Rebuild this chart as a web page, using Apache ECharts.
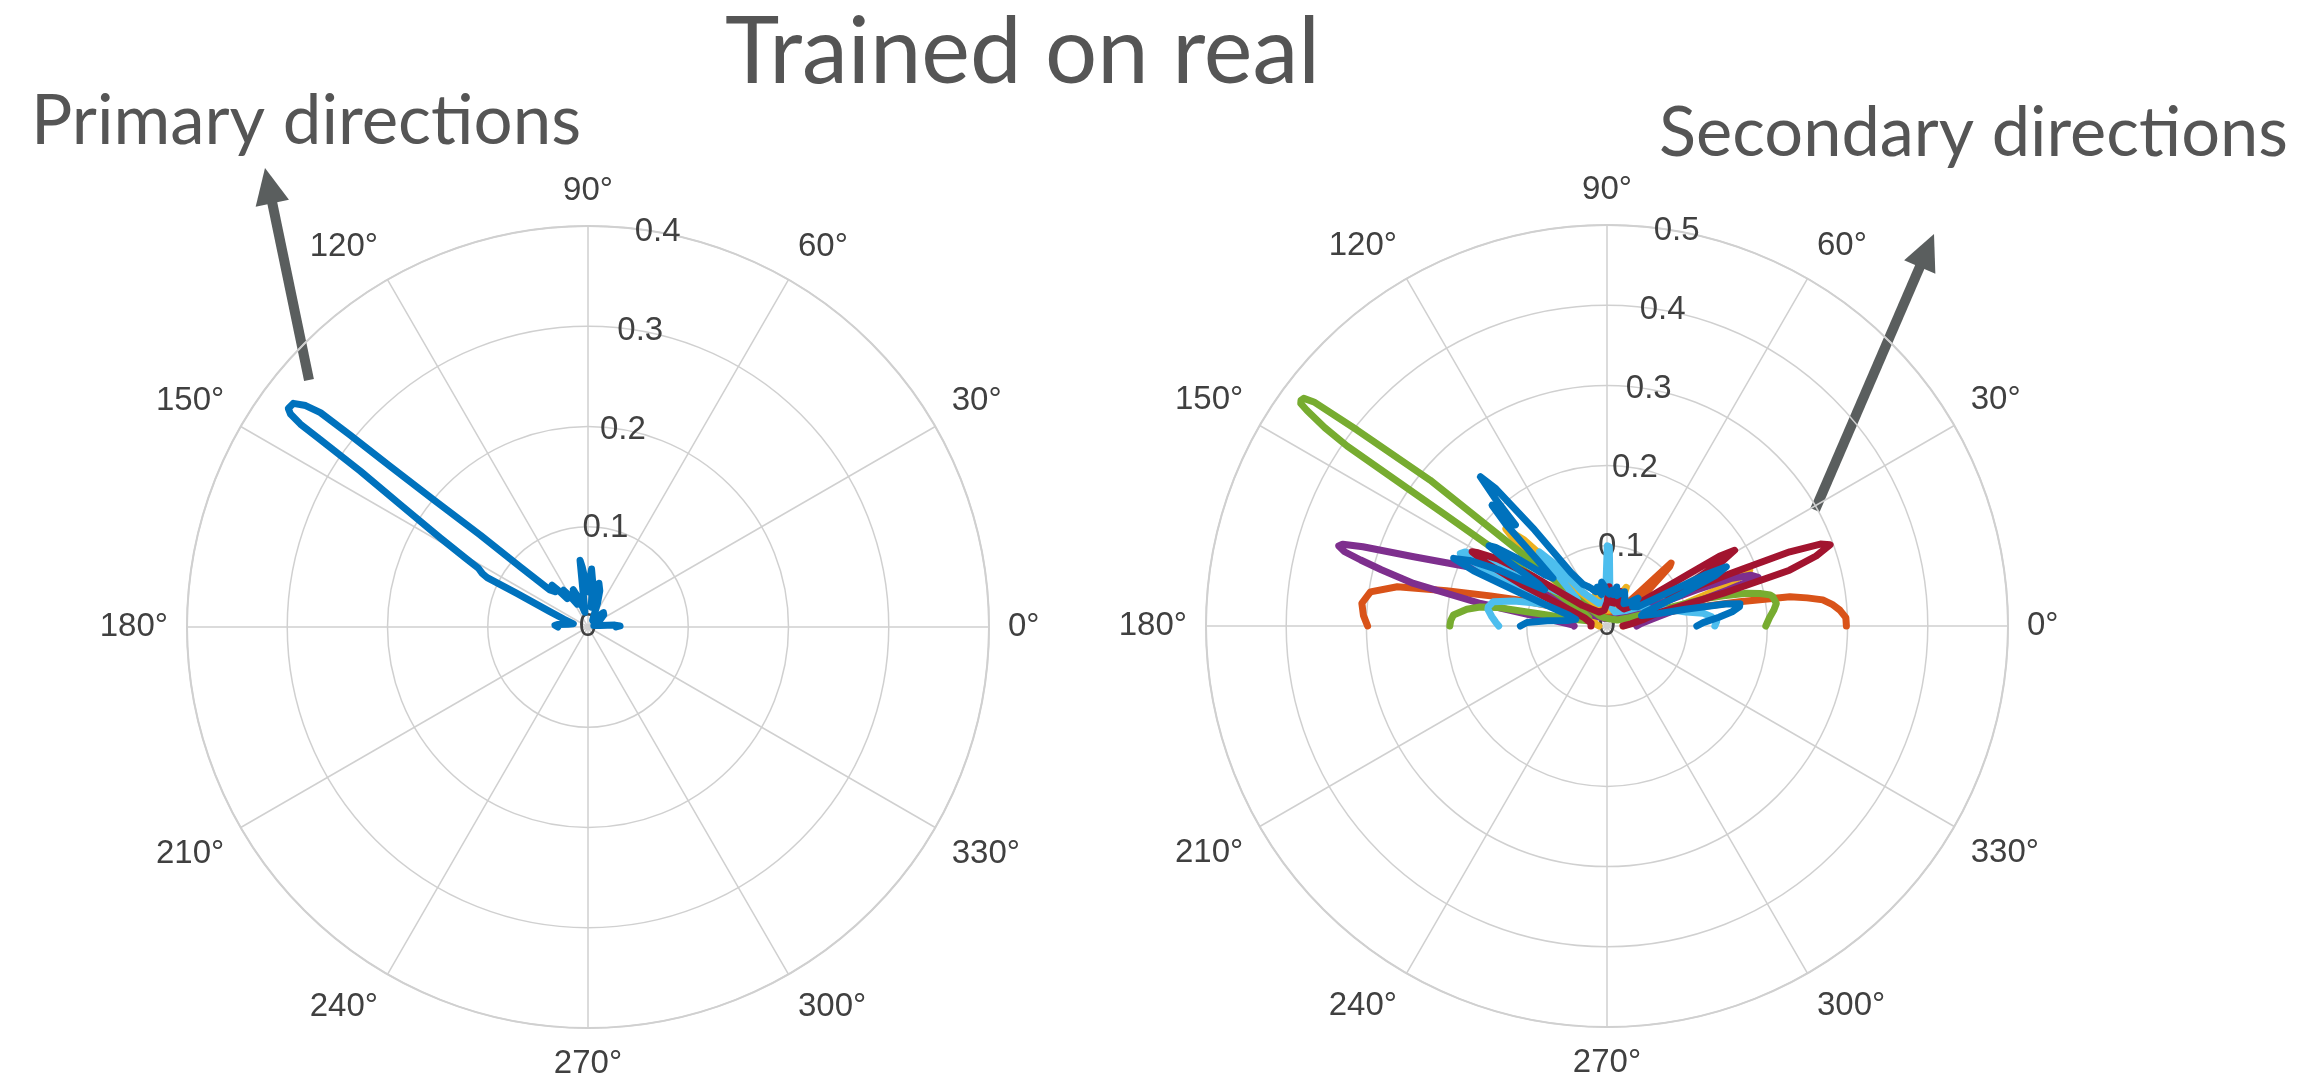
<!DOCTYPE html>
<html><head><meta charset="utf-8">
<script src="https://cdn.jsdelivr.net/npm/echarts@6/dist/echarts.min.js"></script>
<style>html,body{margin:0;padding:0;background:#fff}#c{width:2304px;height:1088px}</style>
</head><body><div id="c"></div>
<script>
// ---------- tick labels ----------
const angleTicks = [0, 30, 60, 90, 120, 150, 180, 210, 240, 270, 300, 330, 360];
const leftRadiusTicks = [0, 0.1, 0.2, 0.3, 0.4];
const rightRadiusTicks = [0, 0.1, 0.2, 0.3, 0.4, 0.5];

// ---------- data: [angle in degrees, radius] ----------
const leftBlue = [[0,0.028],[2,0.032],[4,0.027],[7,0.012],[15,0.006],[25,0.008],[32,0.015],[38,0.02],[43,0.021],[48,0.012],[55,0.008],[62,0.012],[68,0.025],[72,0.038],[76,0.045],[78.5,0.03],[81,0.02],[84,0.045],[86.5,0.058],[88,0.059],[90,0.035],[93,0.045],[95.5,0.06],[96.8,0.067],[98.5,0.03],[102,0.015],[108,0.03],[111.7,0.04],[115,0.025],[120,0.035],[123.7,0.044],[126,0.035],[128.5,0.045],[130.8,0.055],[133,0.048],[135.8,0.053],[138.45,0.0905],[139.5,0.141],[140.5,0.2],[140.9,0.254],[141.1,0.3046],[141.3,0.342],[141.9,0.358],[142.8,0.369],[143.9,0.37],[144.4,0.365],[144.8,0.351],[145.0,0.327],[145.6,0.275],[146.9,0.2235],[148.9,0.172],[150.8,0.138],[151.8,0.124],[153.2,0.118],[153.9,0.112],[154.7,0.079],[158,0.041],[162,0.025],[168,0.015],[172,0.02],[175,0.03],[177,0.033],[180,0.03]];

const rightOrange = [[0,0.2985],[2,0.298],[3.9,0.291],[5.5,0.282],[6.9,0.271],[8,0.252],[9.1,0.231],[10.4,0.168],[12,0.106],[14,0.06],[20,0.03],[30,0.02],[38,0.03],[41,0.07],[43.5,0.108],[44.5,0.112],[46,0.06],[50,0.03],[60,0.02],[80,0.015],[100,0.02],[105,0.04],[108,0.046],[111,0.03],[120,0.015],[140,0.02],[155,0.04],[160,0.07],[163.4,0.113],[165.5,0.15],[167.6,0.205],[169.4,0.266],[171.8,0.298],[174.7,0.307],[177.5,0.304],[180,0.2985]];

const rightYellow = [[0,0.02],[10,0.04],[15,0.09],[18,0.14],[20,0.175],[21.4,0.191],[22.5,0.17],[24,0.1],[26,0.05],[30,0.03],[45,0.02],[55,0.02],[60,0.04],[63.5,0.054],[66,0.045],[70,0.025],[80,0.02],[100,0.02],[108,0.03],[112,0.04],[114,0.042],[117,0.025],[125,0.03],[131,0.09],[134,0.15],[136.2,0.175],[137.5,0.15],[139,0.09],[142,0.04],[150,0.02],[170,0.015],[180,0.01]];

const rightPurple = [[0,0.037],[4,0.042],[7.7,0.053],[11.9,0.0765],[15.1,0.117],[16.6,0.157],[17.8,0.198],[19.5,0.19],[21,0.165],[22,0.12],[23.5,0.06],[26,0.03],[40,0.015],[70,0.01],[110,0.01],[140,0.02],[150,0.05],[154,0.12],[157,0.19],[160.3,0.256],[162,0.32],[162.8,0.345],[163.4,0.349],[164.2,0.34],[165,0.318],[166,0.29],[167.6,0.247],[169.9,0.16],[171.6,0.1],[173.7,0.07],[178.3,0.042],[180,0.041]];

const rightGreen = [[0,0.198],[3,0.203],[5.5,0.209],[7.6,0.213],[10,0.21],[10.8,0.207],[12,0.195],[13.2,0.179],[14.5,0.15],[15.5,0.129],[16.2,0.086],[17.5,0.05],[20,0.03],[30,0.015],[60,0.01],[100,0.01],[125,0.015],[134,0.03],[137.5,0.05],[138.8,0.1],[140.5,0.286],[141.9,0.396],[142.6,0.46],[143.1,0.4727],[143.6,0.474],[144.0,0.472],[144.3,0.461],[144.9,0.43],[145.3,0.394],[145.5,0.244],[146,0.15],[146.8,0.08],[148,0.04],[155,0.025],[165,0.025],[168.5,0.04],[169.5,0.076],[170.4,0.139],[171.5,0.16],[173.2,0.176],[175.9,0.192],[178,0.195],[180,0.196]];

const rightLightBlue = [[0,0.1345],[2.5,0.137],[5,0.131],[7.5,0.121],[10,0.1],[13.6,0.085],[20,0.06],[30,0.048],[40,0.03],[60,0.02],[80,0.025],[86,0.05],[88.3,0.099],[89.8,0.1],[91.5,0.05],[95,0.03],[110,0.03],[125,0.05],[130,0.1],[132.4,0.125],[134,0.09],[138,0.05],[146,0.08],[150,0.16],[152.5,0.2],[153.7,0.204],[155,0.17],[156.5,0.1],[158,0.07],[160.8,0.08],[163,0.1],[165,0.12],[168,0.145],[170.8,0.15],[172,0.15],[175.4,0.144],[178,0.139],[180,0.135]];

const rightRed = [[0,0.02],[5,0.03],[10,0.045],[14.3,0.064],[15.7,0.15],[17,0.238],[18.5,0.275],[20,0.296],[21,0.285],[22.1,0.246],[23,0.17],[24,0.11],[25.5,0.085],[27.2,0.116],[29.3,0.165],[30.7,0.185],[31.8,0.165],[32.4,0.122],[33.5,0.08],[36,0.045],[45,0.03],[60,0.03],[66,0.04],[69,0.046],[72,0.03],[84,0.03],[87,0.049],[89.5,0.03],[100,0.02],[120,0.02],[140,0.04],[146,0.11],[148.5,0.16],[150.4,0.185],[151.2,0.192],[152.5,0.17],[154,0.12],[156,0.06],[160,0.03],[170,0.02],[180,0.02]];

const rightBlue = [[0,0.112],[2,0.12],[4.5,0.14],[6.5,0.157],[8.3,0.167],[9.5,0.168],[10.5,0.15],[12,0.1],[14,0.06],[17,0.045],[20,0.05],[23,0.1],[25,0.15],[26.4,0.166],[27.5,0.14],[29,0.08],[32,0.045],[37,0.04],[42,0.052],[47,0.04],[53,0.035],[58,0.042],[63,0.048],[68,0.044],[72,0.04],[76,0.05],[79,0.04],[82,0.045],[86,0.04],[90,0.042],[94,0.05],[97,0.055],[100,0.04],[104,0.05],[108,0.045],[112,0.05],[116,0.055],[120,0.06],[124,0.08],[127,0.15],[129,0.22],[130.3,0.244],[131.3,0.21],[132.2,0.17],[133.6,0.208],[134.8,0.18],[136.5,0.12],[138.5,0.09],[140.5,0.1],[143,0.14],[144.8,0.17],[145.8,0.178],[146.8,0.15],[148.5,0.1],[150,0.09],[152.5,0.15],[154.5,0.19],[156.2,0.209],[157.5,0.18],[159,0.12],[161,0.08],[164,0.05],[168,0.04],[172,0.05],[175,0.075],[177.5,0.1],[180,0.108]];

// ---------- layout / style ----------
const C = {blue:'#0072BD', orange:'#D95319', yellow:'#EDB120', purple:'#7E2F8E', green:'#77AC30', lightblue:'#4DBEEE', red:'#A2142F'};
const leftCenter = [588, 627], rightCenter = [1607, 626], R = 401;
const gridColor = '#d0d0d0', textColor = '#404040', arrowColor = '#5a5e5e';
const labelFont = 'Liberation Sans', labelSize = 33, curveWidth = 7;

function angleAx(idx) {
  return {polarIndex: idx, type: 'value', min: angleTicks[0], max: angleTicks[angleTicks.length-1],
    interval: angleTicks[1]-angleTicks[0], startAngle: 0, clockwise: false,
    axisLine: {show: true, lineStyle: {color: gridColor, width: 2}},
    axisTick: {show: false},
    splitLine: {show: true, lineStyle: {color: gridColor, width: 1.5}},
    axisLabel: {show: true, margin: 19, color: textColor, fontSize: labelSize, fontFamily: labelFont, formatter: v => v + '°'}};
}
function hiddenAngleAx(idx) {
  return {polarIndex: idx, type: 'value', min: 0, max: 360, startAngle: 80, clockwise: false,
    axisLine: {show: false}, axisTick: {show: false}, axisLabel: {show: false}, splitLine: {show: false}};
}
function radiusAx(idx, ticks) {
  return {polarIndex: idx, type: 'value', min: ticks[0], max: ticks[ticks.length-1], interval: ticks[1]-ticks[0],
    axisLine: {show: false}, axisTick: {show: false}, axisLabel: {show: false},
    splitLine: {show: true, lineStyle: {color: gridColor, width: 1.5}}};
}
function radiusLabelAx(idx, ticks) {
  return {polarIndex: idx, type: 'value', min: ticks[0], max: ticks[ticks.length-1], interval: ticks[1]-ticks[0],
    axisLine: {show: false}, axisTick: {show: false}, splitLine: {show: false},
    axisLabel: {show: true, margin: 0, rotate: 0, align: 'center', verticalAlign: 'middle', color: textColor, fontSize: labelSize, fontFamily: labelFont}};
}
function curve(pts, color, polarIndex) {
  return {type: 'line', coordinateSystem: 'polar', polarIndex, data: pts.map(p => [p[1], p[0]]),
    symbol: 'none', showSymbol: false, smooth: false, clip: false, silent: true,
    lineStyle: {color, width: curveWidth, cap: 'round', join: 'round'}};
}

// ---------- texts & arrows ----------
const ctx = document.createElement('canvas').getContext('2d');
function title(text, left, right, capTop, baseline) {
  const capH = baseline - capTop;
  const fs = capH / 0.7165;
  ctx.font = fs + 'px Lato';
  const w = ctx.measureText(text).width;
  return {type: 'text', x: left, y: baseline - capH / 2, scaleX: (right - left) / w, silent: true,
    style: {text, fontSize: fs, fontFamily: 'Lato', fill: '#555555', align: 'left', verticalAlign: 'middle'}};
}
function arrow(tail, tip, shaftW, headL, headW) {
  const dx = tip[0]-tail[0], dy = tip[1]-tail[1], L = Math.hypot(dx, dy);
  const ux = dx/L, uy = dy/L, px = -uy, py = ux;
  const bx = tip[0]-ux*headL, by = tip[1]-uy*headL;
  return [
    {type: 'line', silent: true, shape: {x1: tail[0], y1: tail[1], x2: bx+ux*3, y2: by+uy*3}, style: {stroke: arrowColor, lineWidth: shaftW}},
    {type: 'polygon', silent: true, shape: {points: [tip, [bx+px*headW/2, by+py*headW/2], [bx-px*headW/2, by-py*headW/2]]}, style: {fill: arrowColor}}
  ];
}

const chart = echarts.init(document.getElementById('c'), null, {renderer: 'canvas'});
chart.setOption({
  animation: false,
  backgroundColor: '#ffffff',
  polar: [
    {center: leftCenter, radius: R},
    {center: leftCenter, radius: R},
    {center: rightCenter, radius: R},
    {center: rightCenter, radius: R}
  ],
  angleAxis: [angleAx(0), hiddenAngleAx(1), angleAx(2), hiddenAngleAx(3)],
  radiusAxis: [radiusAx(0, leftRadiusTicks), radiusLabelAx(1, leftRadiusTicks), radiusAx(2, rightRadiusTicks), radiusLabelAx(3, rightRadiusTicks)],
  series: [
    curve(leftBlue, C.blue, 0),
    curve(rightOrange, C.orange, 2),
    curve(rightYellow, C.yellow, 2),
    curve(rightPurple, C.purple, 2),
    curve(rightGreen, C.green, 2),
    curve(rightLightBlue, C.lightblue, 2),
    curve(rightRed, C.red, 2),
    curve(rightBlue, C.blue, 2)
  ],
  graphic: [
    title('Trained on real', 725, 1320, 20, 86),
    title('Primary directions', 31, 581, 96, 146),
    title('Secondary directions', 1659, 2288, 108, 158),
    ...arrow([309, 380], [265, 168], 10, 36, 34),
    ...arrow([1815, 510], [1934, 234], 10, 36, 34)
  ]
});
</script></body></html>
